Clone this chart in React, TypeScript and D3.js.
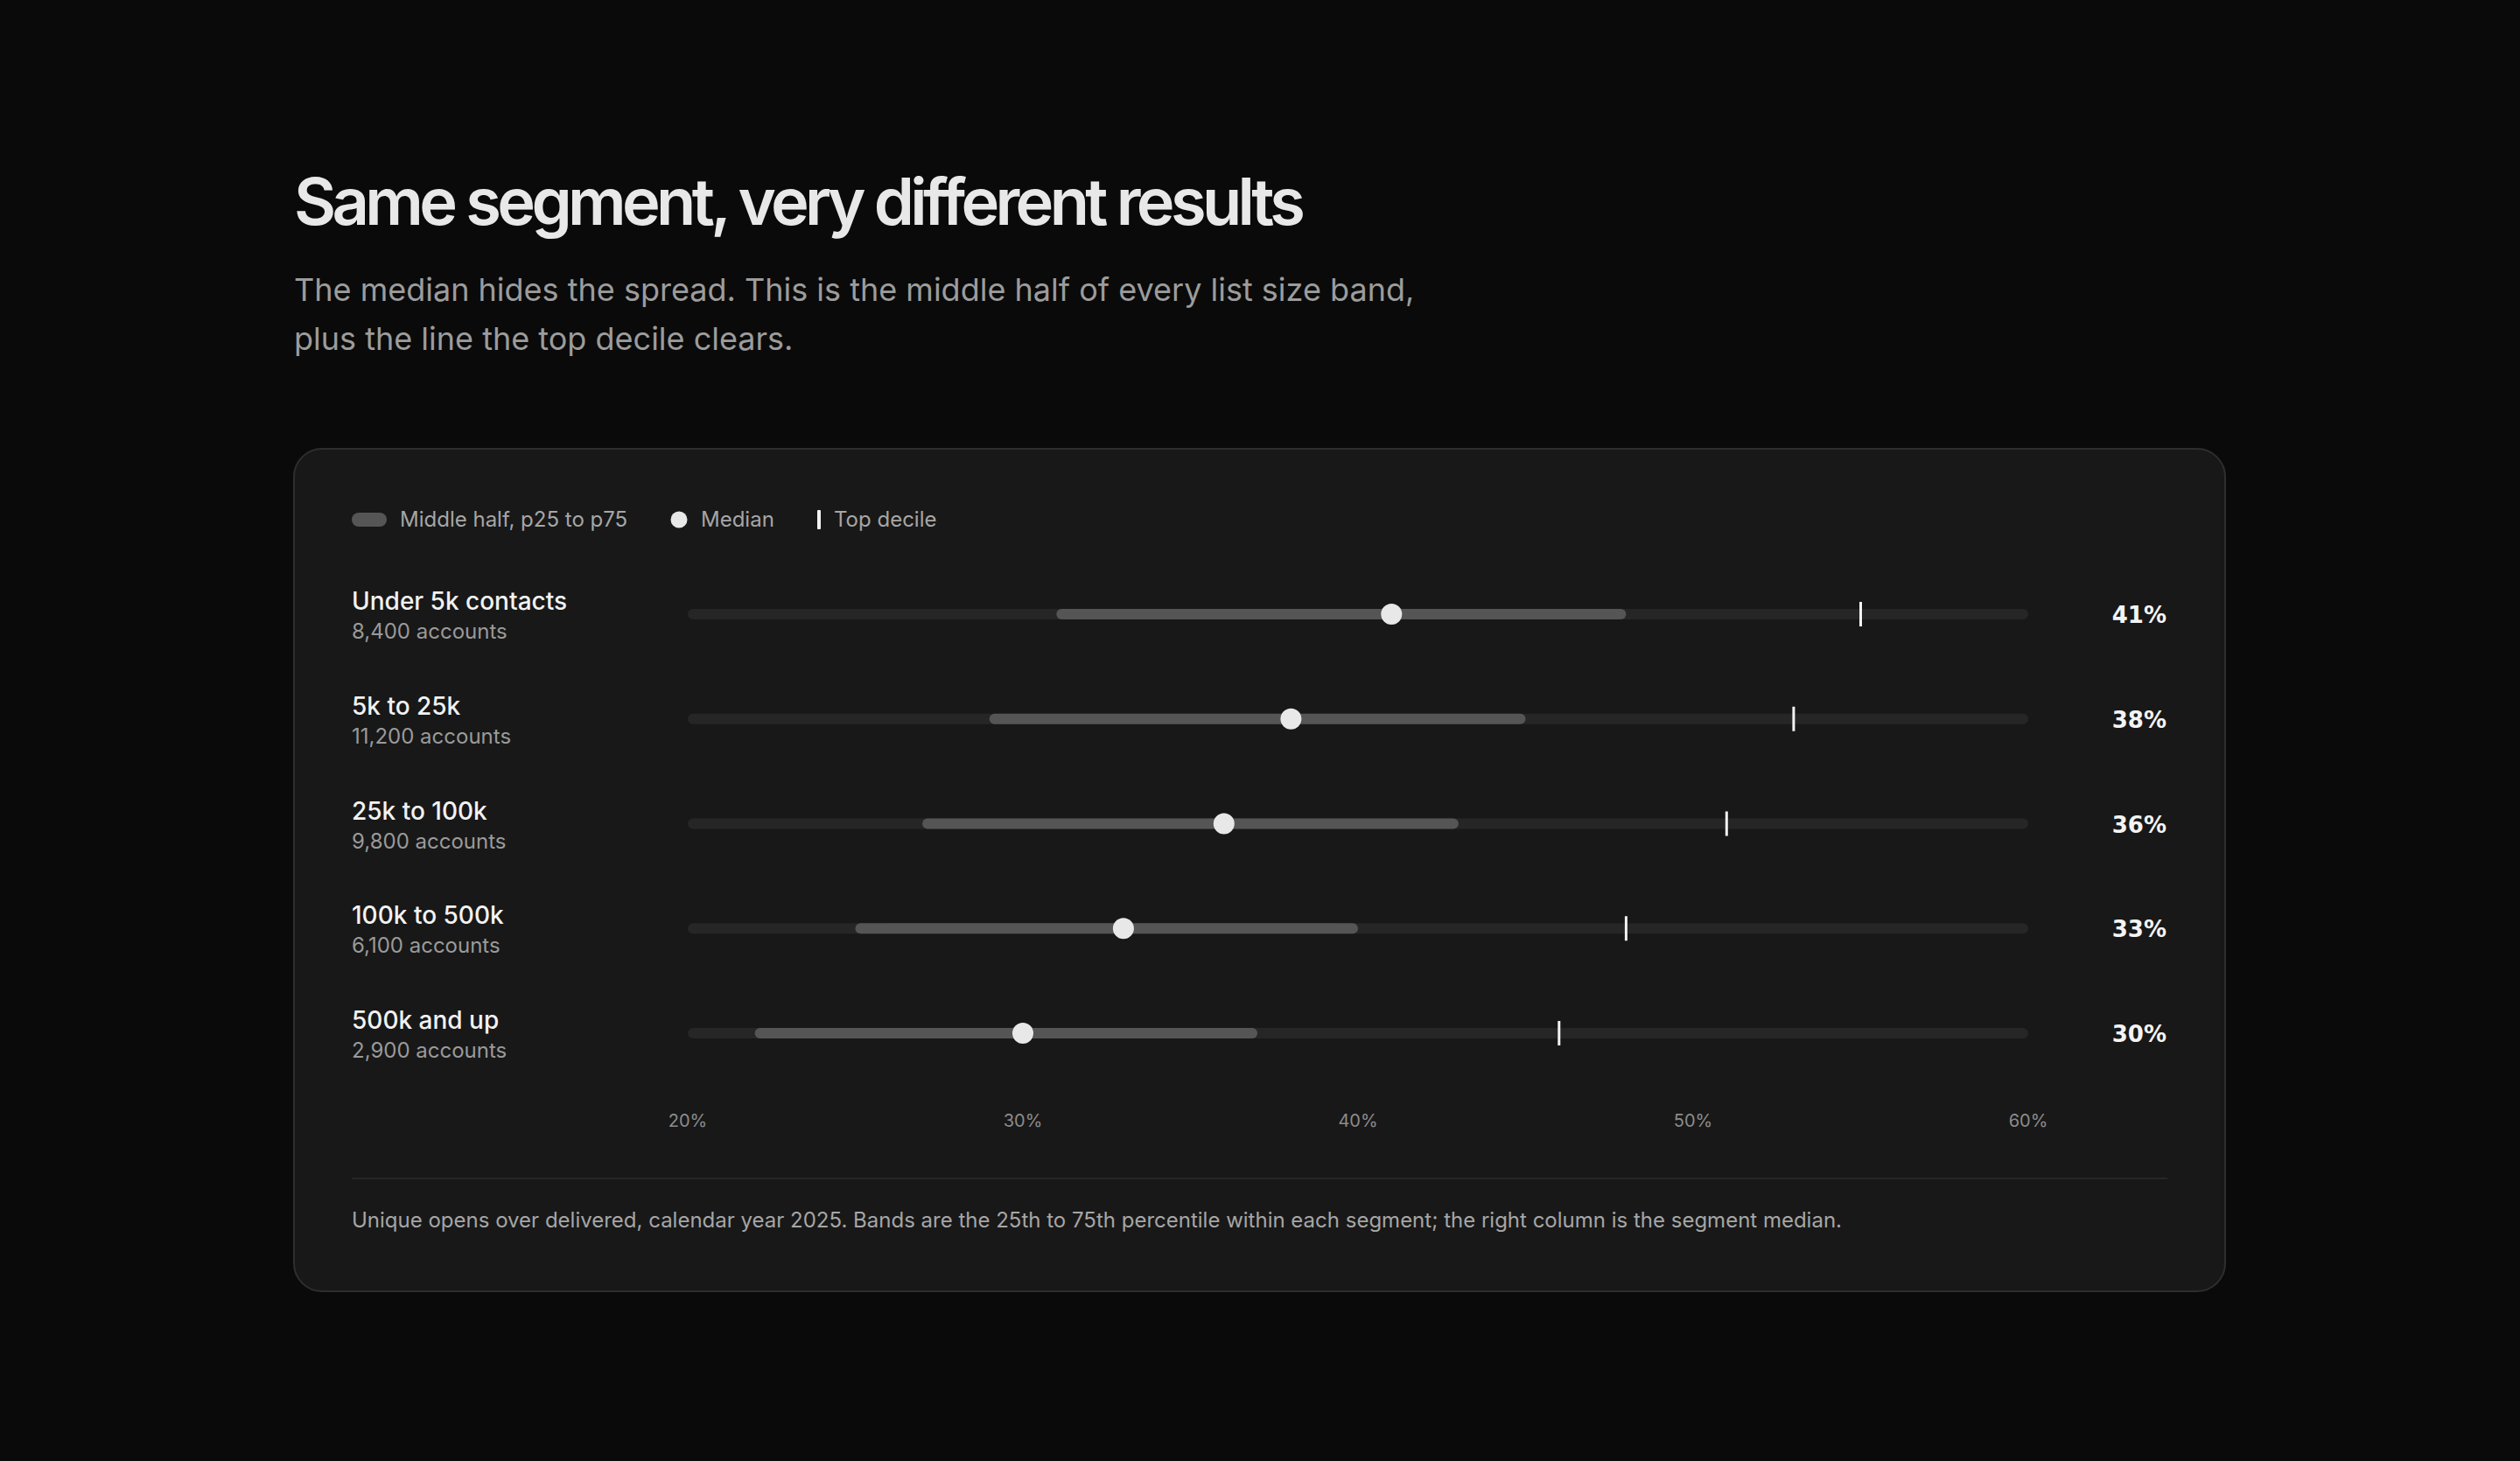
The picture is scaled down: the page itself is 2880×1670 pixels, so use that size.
import React from "react";
import * as d3 from "d3";

const segments = ["Under 5k contacts", "5k to 25k", "25k to 100k", "100k to 500k", "500k and up"];
const accounts = ["8,400 accounts", "11,200 accounts", "9,800 accounts", "6,100 accounts", "2,900 accounts"];
const p25 = [31, 29, 27, 25, 22];
const p75 = [48, 45, 43, 40, 37];
const median = [41, 38, 36, 33, 30];
const topDecile = [55, 53, 51, 48, 46];
const axisTicks = [20, 30, 40, 50, 60];

const W = 2880;
const H = 1670;
const FONT = "Inter, 'Noto Sans', sans-serif";

export default function App() {
  const x = d3.scaleLinear().domain([20, 60]).range([786, 2318]);
  const y = d3.scalePoint<string>().domain(segments).range([702, 1181]);

  const card = { x: 336, y: 513, w: 2207, h: 963 };

  return (
    <svg
      width={W}
      height={H}
      style={{ position: "absolute", left: 0, top: 0, display: "block", background: "#0a0a0a" }}
      fontFamily={FONT}
    >
      <rect x={0} y={0} width={W} height={H} fill="#0a0a0a" />
      <text x={336} y={257} fontSize={74} fontWeight={600} fill="#e8e8e8" letterSpacing="-0.063em">
        Same segment, very different results
      </text>
      <text x={336} y={344} fontSize={36} fill="#9c9c9c">
        The median hides the spread. This is the middle half of every list size band,
      </text>
      <text x={336} y={400} fontSize={36} fill="#9c9c9c">
        plus the line the top decile clears.
      </text>

      <rect x={card.x} y={card.y} width={card.w} height={card.h} rx={32} ry={32} fill="#181818" stroke="#2e2e2e" strokeWidth={2} />

      {/* legend */}
      <rect x={402} y={586} width={40} height={16} rx={8} fill="#555555" />
      <text x={457} y={602} fontSize={24} fill="#a6a6a6">Middle half, p25 to p75</text>
      <circle cx={776} cy={594} r={9.5} fill="#e8e8e8" />
      <text x={801} y={602} fontSize={24} fill="#a6a6a6">Median</text>
      <rect x={934} y={583} width={4} height={22} rx={1} fill="#f2f2f2" />
      <text x={953} y={602} fontSize={24} fill="#a6a6a6">Top decile</text>

      {segments.map((s, i) => {
        const cy = y(s)!;
        return (
          <g key={s}>
            <text x={402} y={cy - 5} fontSize={28} fontWeight={500} fill="#f2f2f2">{s}</text>
            <text x={402} y={cy + 28} fontSize={24} fill="#9a9a9a">{accounts[i]}</text>
            <rect x={x(20)} y={cy - 6} width={x(60) - x(20)} height={12} rx={6} fill="#262626" />
            <rect x={x(p25[i])} y={cy - 6} width={x(p75[i]) - x(p25[i])} height={12} rx={6} fill="#555555" />
            <rect x={x(topDecile[i]) - 1.5} y={cy - 14} width={3} height={28} fill="#f2f2f2" />
            <circle cx={x(median[i])} cy={cy} r={12} fill="#e8e8e8" />
            <text x={2476} y={cy + 10} fontSize={26} fontWeight={700} fontFamily="'DejaVu Sans', sans-serif" fill="#f4f4f4" textAnchor="end">{median[i]}%</text>
          </g>
        );
      })}

      {axisTicks.map((t) => (
        <text key={t} x={x(t)} y={1288} fontSize={20} fill="#8c8c8c" textAnchor="middle">{t}%</text>
      ))}

      <rect x={402} y={1346} width={2075} height={2} fill="#262626" />
      <text x={402} y={1403} fontSize={24} fill="#a6a6a6">
        Unique opens over delivered, calendar year 2025. Bands are the 25th to 75th percentile within each segment; the right column is the segment median.
      </text>
    </svg>
  );
}
